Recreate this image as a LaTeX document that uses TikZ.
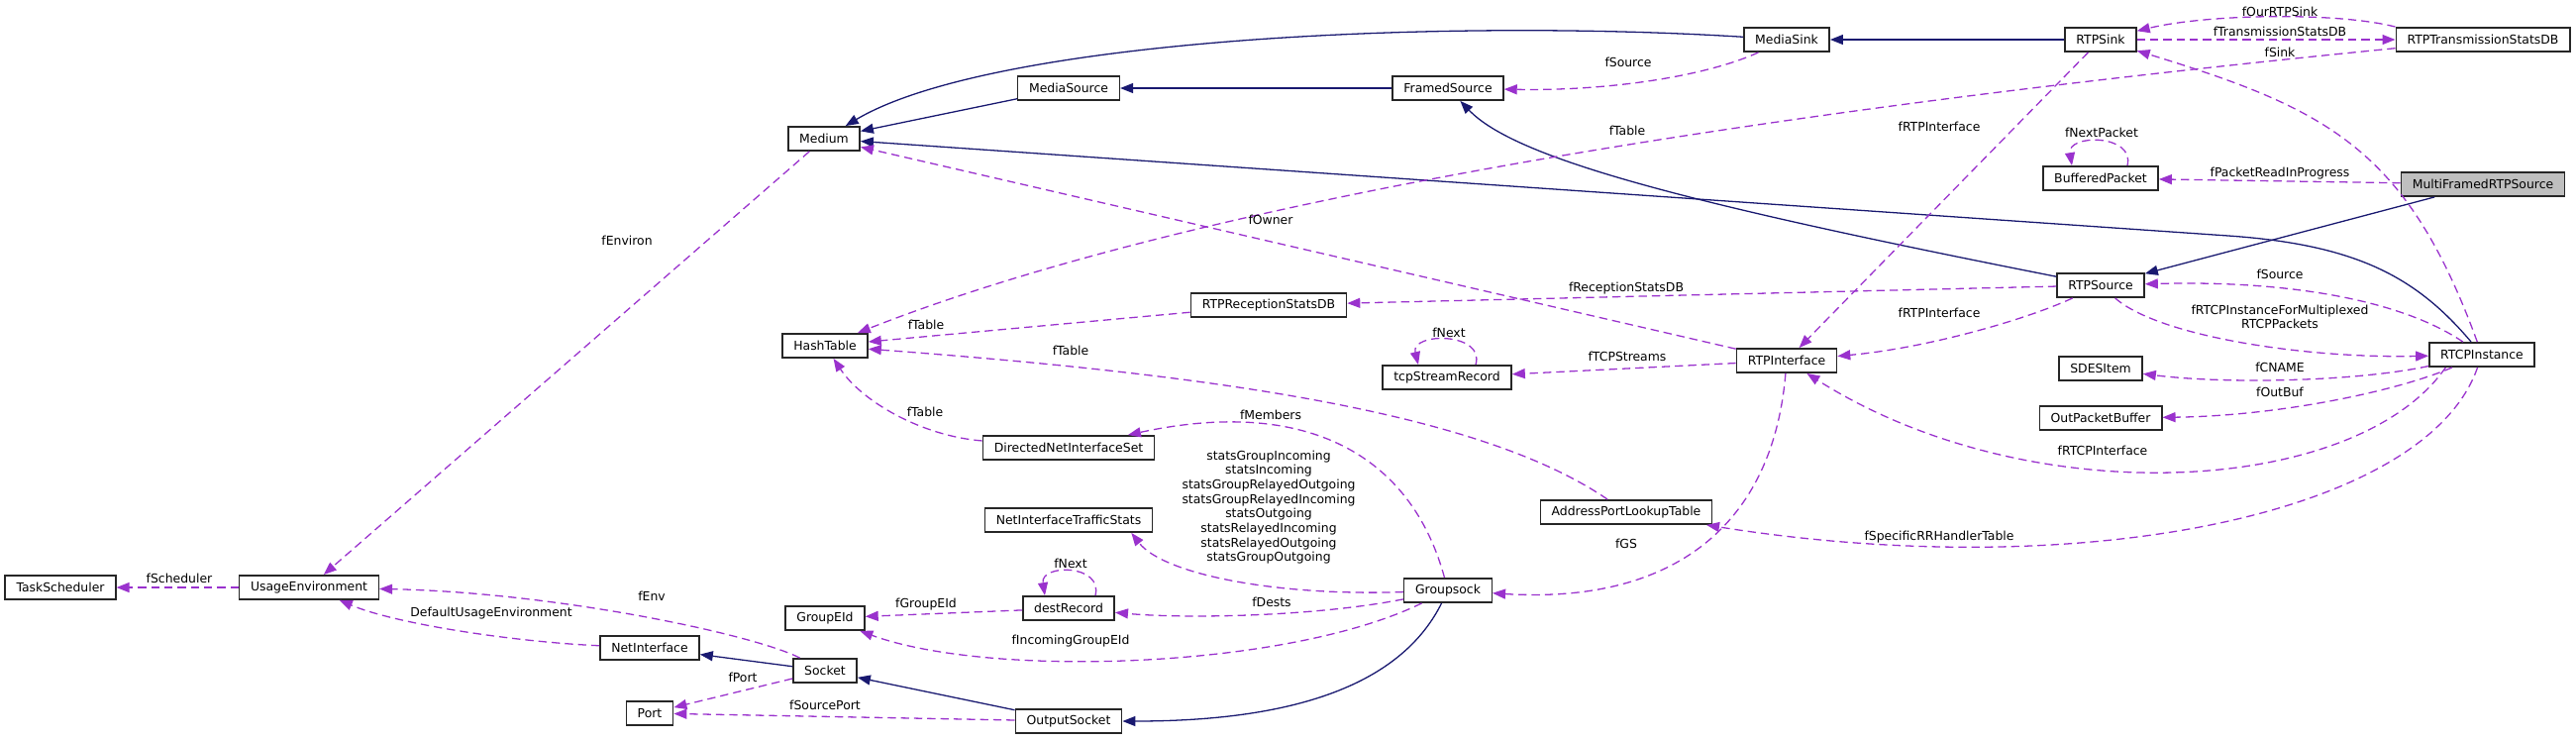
\documentclass[tikz,border=0pt]{standalone}
\usepackage{fontspec}
\setmainfont{DejaVu Sans}
\usepackage{tikz}
\usetikzlibrary{arrows.meta}
\definecolor{inhblue}{HTML}{191970}
\definecolor{refpurple}{HTML}{9A32CD}
\definecolor{focusgray}{HTML}{BFBFBF}

\begin{document}
\begin{tikzpicture}[
    x=0.03cm, y=-0.03cm,
    cls/.style={rectangle, draw=black!85, fill=white, line width=1.3pt, minimum height=0.73cm,
        inner xsep=0.34cm, inner ysep=0pt, font=\fontsize{10.6}{12.5}\selectfont},
    lbl/.style={inner sep=0pt, align=center, font=\fontsize{10.6}{12.5}\selectfont},
    inh/.style={-{Triangle[length=0.39cm, width=0.3cm]}, line width=1.1pt, draw=inhblue},
    ref/.style={-{Triangle[length=0.39cm, width=0.3cm]}, line width=1.1pt, draw=refpurple,
        dash pattern=on 0.25cm off 0.15cm}
]
\useasboundingbox (0,0) rectangle (2601,747);

\node[cls] (tasksched) at (61,593) {TaskScheduler};
\node[cls] (usageenv) at (312,593) {UsageEnvironment};
\node[cls] (netif) at (656,654) {NetInterface};
\node[cls] (port) at (656,720) {Port};
\node[cls] (socket) at (833,677) {Socket};
\node[cls] (groupeid) at (833,624) {GroupEId};
\node[cls] (medium) at (832,140) {Medium};
\node[cls] (hashtab) at (833,349) {HashTable};
\node[cls] (mediasrc) at (1079,89) {MediaSource};
\node[cls] (dnis) at (1079,452) {DirectedNetInterfaceSet};
\node[cls] (nits) at (1079,525) {NetInterfaceTrafficStats};
\node[cls] (destrec) at (1079,614) {destRecord};
\node[cls] (outsock) at (1079,728) {OutputSocket};
\node[cls] (recvstats) at (1281,308) {RTPReceptionStatsDB};
\node[cls] (framedsrc) at (1462,89) {FramedSource};
\node[cls] (tcprec) at (1461,381) {tcpStreamRecord};
\node[cls] (groupsock) at (1462,596) {Groupsock};
\node[cls] (aplt) at (1642,517) {AddressPortLookupTable};
\node[cls] (mediasink) at (1804,40) {MediaSink};
\node[cls] (rtpif) at (1804,364) {RTPInterface};
\node[cls] (rtpsink) at (2121,40) {RTPSink};
\node[cls] (bufpkt) at (2121,180) {BufferedPacket};
\node[cls] (rtpsrc) at (2121,288) {RTPSource};
\node[cls] (sdes) at (2121,372) {SDESItem};
\node[cls] (outbuf) at (2121,422) {OutPacketBuffer};
\node[cls] (rtpstats) at (2507,40) {RTPTransmissionStatsDB};
\node[cls, fill=focusgray] (mfsrc) at (2507,186) {MultiFramedRTPSource};
\node[cls] (rtcp) at (2506,358) {RTCPInstance};

\draw[inh] (mediasrc) -- (medium);
\draw[inh] (framedsrc) -- (mediasrc);
\draw[inh] (mediasink) .. controls (1450,18) and (1000,40) .. (medium);
\draw[inh] (rtpsink) -- (mediasink);
\draw[inh] (rtpsrc) .. controls (1700,205) and (1530,160) .. (framedsrc);
\draw[inh] (mfsrc) -- (rtpsrc);
\draw[inh] (rtcp) .. controls (2440,280) and (2380,247) .. (2250,238) -- (medium);
\draw[inh] (socket) -- (netif);
\draw[inh] (outsock) -- (socket);
\draw[inh] (groupsock) .. controls (1420,680) and (1330,728) .. (outsock);

\draw[ref] (medium) -- (usageenv);
\draw[ref] (usageenv) -- (tasksched);
\draw[ref] (socket) .. controls (760,640) and (560,598) .. (usageenv);
\draw[ref] (netif) .. controls (520,648) and (400,630) .. (usageenv);
\draw[ref] (socket) -- (port);
\draw[ref] (outsock) -- (port);
\draw[ref] (destrec) -- (groupeid);
\draw[ref] (groupsock) .. controls (1300,675) and (1000,685) .. (groupeid);
\draw[ref] (groupsock) .. controls (1330,622) and (1200,625) .. (destrec);
\draw[ref] ([xshift=0.81cm]destrec.north) .. controls +(8,-32) and +(-5,-32) .. ([xshift=-0.72cm]destrec.north);
\draw[ref] (groupsock) .. controls (1290,602) and (1175,580) .. ([xshift=1.9cm]nits.south);
\draw[ref] (groupsock) .. controls (1425,460) and (1320,400) .. (dnis);
\draw[ref] (dnis) .. controls (930,440) and (870,405) .. (hashtab);
\draw[ref] (aplt) .. controls (1500,420) and (1250,380) .. (hashtab);
\draw[ref] (recvstats) -- (hashtab);
\draw[ref] (rtpstats) .. controls (1900,100) and (1250,185) .. (hashtab);
\draw[ref] (rtpif) -- (medium);
\draw[ref] (rtpsrc) -- (recvstats);
\draw[ref] (rtpif) -- (tcprec);
\draw[ref] ([xshift=0.87cm]tcprec.north) .. controls +(10,-33) and +(-8,-33) .. ([xshift=-0.87cm]tcprec.north);
\draw[ref] (rtpsink) -- (rtpif);
\draw[ref] (rtpsrc) .. controls (2040,325) and (1940,352) .. (rtpif);
\draw[ref] ([xshift=-1.1cm]rtcp.south) .. controls (2380,500) and (2050,520) .. (rtpif);
\draw[ref] (rtcp) .. controls (2420,300) and (2300,283) .. (rtpsrc);
\draw[ref] (rtpsrc) .. controls (2180,340) and (2330,362) .. (rtcp);
\draw[ref] (rtcp) .. controls (2380,385) and (2250,388) .. (sdes);
\draw[ref] (rtcp) .. controls (2420,395) and (2300,420) .. (outbuf);
\draw[ref] (rtcp) .. controls (2450,520) and (2100,590) .. (aplt);
\draw[ref] (rtcp) .. controls (2430,150) and (2350,110) .. (rtpsink);
\draw[ref] (rtpstats.north west) .. controls (2360,12) and (2230,14) .. (rtpsink);
\draw[ref] (rtpsink) -- (rtpstats);
\draw[ref] (mfsrc) -- (bufpkt);
\draw[ref] ([xshift=0.81cm]bufpkt.north) .. controls +(8,-32) and +(-5,-32) .. ([xshift=-0.87cm]bufpkt.north);
\draw[ref] (mediasink) .. controls (1720,78) and (1620,92) .. (framedsrc);
\draw[ref] (rtpif) .. controls (1790,530) and (1690,610) .. (groupsock);

\node[lbl] (lscheduler) at (181,584) {fScheduler};
\node[lbl] (lenviron) at (633,243) {fEnviron};
\node[lbl] (lenv) at (658,602) {fEnv};
\node[lbl] (ldefenv) at (496,619) {DefaultUsageEnvironment};
\node[lbl] (lport) at (750,684) {fPort};
\node[lbl] (lsrcport) at (833,712) {fSourcePort};
\node[lbl] (ltable1) at (935,328) {fTable};
\node[lbl] (ltable2) at (1081,354) {fTable};
\node[lbl] (ltable3) at (934,416) {fTable};
\node[lbl] (lmembers) at (1283,419) {fMembers};
\node[lbl] (lstats) at (1281,512) {statsGroupIncoming\\statsIncoming\\statsGroupRelayedOutgoing\\statsGroupRelayedIncoming\\statsOutgoing\\statsRelayedIncoming\\statsRelayedOutgoing\\statsGroupOutgoing};
\node[lbl] (lnext1) at (1081,569) {fNext};
\node[lbl] (lgroupeid) at (935,610) {fGroupEId};
\node[lbl] (ldests) at (1284,608) {fDests};
\node[lbl] (linceid) at (1081,647) {fIncomingGroupEId};
\node[lbl] (lgs) at (1642,549) {fGS};
\node[lbl] (lsource1) at (1644,63) {fSource};
\node[lbl] (ltable4) at (1643,132) {fTable};
\node[lbl] (lowner) at (1283,222) {fOwner};
\node[lbl] (lrecv) at (1642,291) {fReceptionStatsDB};
\node[lbl] (lnext2) at (1463,336) {fNext};
\node[lbl] (ltcp) at (1643,360) {fTCPStreams};
\node[lbl] (lrtpif1) at (1958,128) {fRTPInterface};
\node[lbl] (lrtpif2) at (1958,316) {fRTPInterface};
\node[lbl] (lrrh) at (1958,542) {fSpecificRRHandlerTable};
\node[lbl] (lourrtp) at (2302,12) {fOurRTPSink};
\node[lbl] (ltrans) at (2302,32) {fTransmissionStatsDB};
\node[lbl] (lsink) at (2302,53) {fSink};
\node[lbl] (lnextpkt) at (2122,134) {fNextPacket};
\node[lbl] (lpktread) at (2302,175) {fPacketReadInProgress};
\node[lbl] (lsource2) at (2302,277) {fSource};
\node[lbl] (lrtcpmux) at (2302,320) {fRTCPInstanceForMultiplexed\\RTCPPackets};
\node[lbl] (lcname) at (2302,371) {fCNAME};
\node[lbl] (loutbuf) at (2302,396) {fOutBuf};
\node[lbl] (lrtcpif) at (2123,455) {fRTCPInterface};
\end{tikzpicture}
\end{document}
